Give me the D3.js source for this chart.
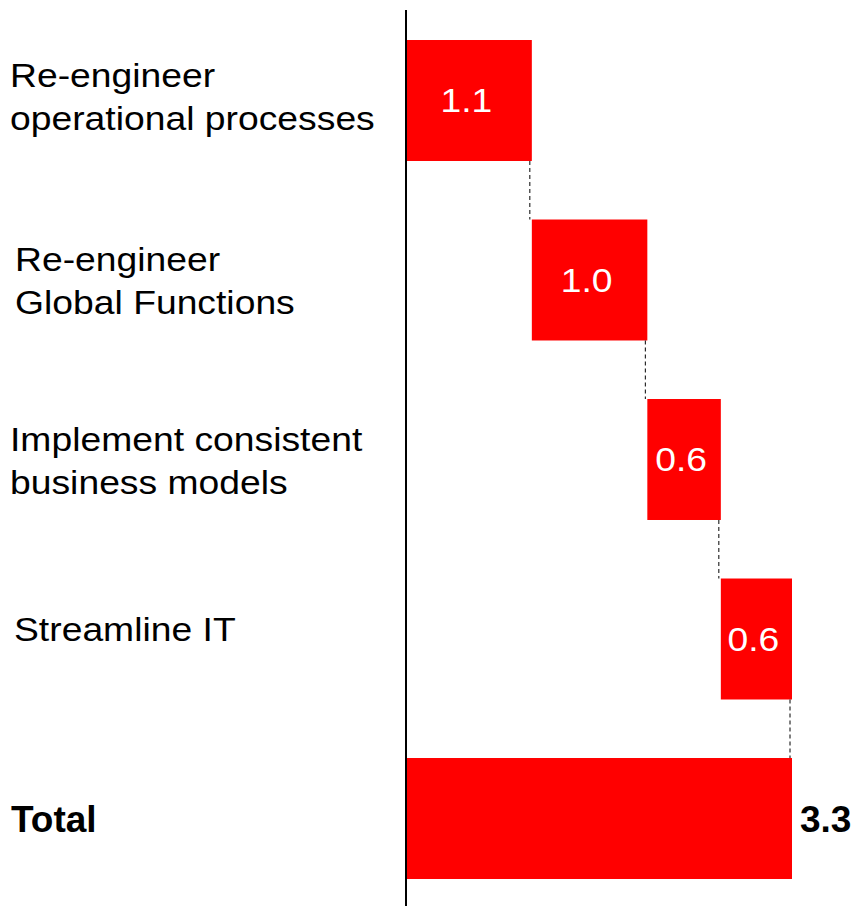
<!DOCTYPE html>
<html>
<head>
<meta charset="utf-8">
<script src="https://cdn.jsdelivr.net/npm/d3@7"></script>
<style>
  body { margin: 0; background: #fff; }
  text { font-family: "Liberation Sans", Arial, sans-serif; }
</style>
</head>
<body>
<div id="chart"></div>
<script>
// Data
const categories = [
  "Re-engineer\noperational processes",
  "Re-engineer\nGlobal Functions",
  "Implement consistent\nbusiness models",
  "Streamline IT",
  "Total"
];
const steps = [1.07, 0.99, 0.63, 0.61];
const totalValue = 3.3;

// Chart size
const svgWidth = 853;
const svgHeight = 906;
const stretch = 1.13; // labels in the picture are a bit wider than tall
// hand placement of the text boxes on the slide (dx, dy)
const labelNudge = [[-2, -5], [3, 0], [-2, 0], [2, 0], [0, 0]];

const svg = d3.select("#chart")
  .append("svg")
  .attr("width", svgWidth)
  .attr("height", svgHeight);

// Build waterfall rows
let running = 0;
const rows = steps.map((v, i) => {
  const row = { cat: categories[i], start: running, end: running + v, value: v, total: false };
  running += v;
  return row;
});
rows.push({ cat: categories[4], start: 0, end: totalValue, value: totalValue, total: true });

const x = d3.scaleLinear()
  .domain([0, totalValue])
  .range([407, 792]);

const y = d3.scaleBand()
  .domain(categories)
  .range([10.75, 908.25])
  .paddingInner(0.326)
  .paddingOuter(0.163);

const fmt = d3.format(".1f");

// bars
svg.selectAll("rect.bar")
  .data(rows)
  .join("rect")
  .attr("class", "bar")
  .attr("x", d => x(d.start))
  .attr("y", d => y(d.cat))
  .attr("width", d => x(d.end) - x(d.start))
  .attr("height", y.bandwidth())
  .attr("fill", "#ff0000");

// dashed connectors
svg.selectAll("line.conn")
  .data(rows.slice(0, 4))
  .join("line")
  .attr("class", "conn")
  .attr("x1", d => x(d.end) - 2)
  .attr("x2", d => x(d.end) - 2)
  .attr("y1", d => y(d.cat) + y.bandwidth())
  .attr("y2", (d, i) => y(rows[i + 1].cat))
  .attr("stroke", "#000")
  .attr("stroke-width", 1)
  .attr("stroke-dasharray", "4,3");

// vertical axis line
svg.append("line")
  .attr("x1", 406).attr("x2", 406)
  .attr("y1", 10).attr("y2", svgHeight)
  .attr("stroke", "#000")
  .attr("stroke-width", 2);

// values inside bars
svg.selectAll("text.val")
  .data(rows.filter(d => !d.total))
  .join("text")
  .attr("class", "val")
  .attr("transform", d => `translate(${(x(d.start) + x(d.end)) / 2 - 3},${y(d.cat) + y.bandwidth() / 2 + 11.5}) scale(${stretch},1)`)
  .attr("text-anchor", "middle")
  .attr("font-size", 33)
  .attr("fill", "#fff")
  .text(d => fmt(d.value));

// total value
const tot = rows[4];
svg.append("text")
  .attr("x", x(tot.end) + 8)
  .attr("y", y(tot.cat) + y.bandwidth() / 2 + 13.5)
  .attr("font-size", 37)
  .attr("font-weight", "bold")
  .attr("fill", "#000")
  .text(fmt(tot.value));

// category labels
const lineGap = 43;
rows.forEach((d, i) => {
  const lines = d.cat.split("\n");
  const cy = y(d.cat) + y.bandwidth() / 2 + labelNudge[i][1];
  const lx = 12 + labelNudge[i][0];
  if (d.total) {
    svg.append("text")
      .attr("x", lx - 1)
      .attr("y", cy + 13.5)
      .attr("font-size", 37)
      .attr("font-weight", "bold")
      .text(lines[0]);
    return;
  }
  const first = cy + 2 - (lines.length - 1) * 11;
  lines.forEach((t, j) => {
    svg.append("text")
      .attr("transform", `translate(${lx},${first + j * lineGap}) scale(${stretch},1)`)
      .attr("font-size", 33)
      .attr("fill", "#000")
      .text(t);
  });
});
</script>
</body>
</html>
